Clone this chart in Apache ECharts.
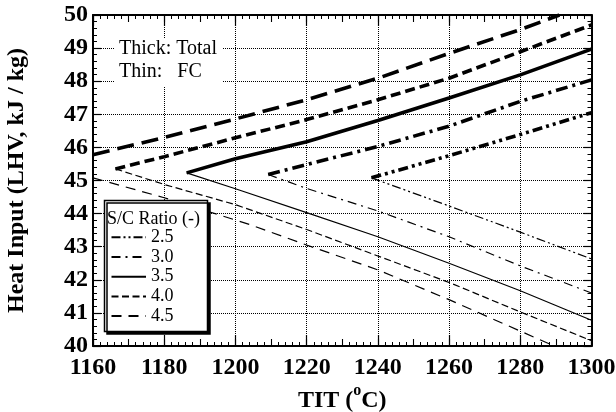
<!DOCTYPE html>
<html>
<head>
<meta charset="utf-8">
<script src="https://cdn.jsdelivr.net/npm/echarts@6/dist/echarts.min.js"></script>
<style>
  html, body { margin: 0; padding: 0; background: #fff; }
  #chart { width: 616px; height: 412px; }
</style>
</head>
<body>
<div id="chart"></div>
<script>
// Axis ranges
const titMin = 1160, titMax = 1300, titStep = 20;
const heatMin = 40, heatMax = 50, heatStep = 1;

// S/C ratio labels
const ratios = ['2.5', '3.0', '3.5', '4.0', '4.5'];

// S/C = 2.5
const titTotal25 = [1238.2, 1260, 1280, 1300];
const heatTotal25 = [45.08, 45.75, 46.39, 47.05];
const titFC25 = [1238.2, 1260, 1280, 1300];
const heatFC25 = [45.08, 44.23, 43.44, 42.63];

// S/C = 3.0
const titTotal30 = [1209.2, 1220, 1240, 1260, 1280, 1300];
const heatTotal30 = [45.18, 45.48, 46.03, 46.64, 47.39, 48.04];
const titFC30 = [1209.2, 1220, 1240, 1260, 1280, 1300];
const heatFC30 = [45.18, 44.76, 44.08, 43.30, 42.42, 41.60];

// S/C = 3.5
const titTotal35 = [1186.3, 1200, 1220, 1240, 1260, 1280, 1300];
const heatTotal35 = [45.23, 45.66, 46.17, 46.81, 47.49, 48.19, 48.97];
const titFC35 = [1186.3, 1200, 1220, 1240, 1260, 1280, 1300];
const heatFC35 = [45.23, 44.75, 44.03, 43.30, 42.50, 41.67, 40.78];

// S/C = 4.0
const titTotal40 = [1166.3, 1180, 1200, 1220, 1240, 1260, 1280, 1300];
const heatTotal40 = [45.35, 45.72, 46.29, 46.84, 47.44, 48.09, 48.89, 49.70];
const titFC40 = [1166.3, 1180, 1200, 1220, 1240, 1260, 1280, 1300];
const heatFC40 = [45.35, 44.88, 44.27, 43.52, 42.72, 41.92, 41.03, 40.16];

// S/C = 4.5
const titTotal45 = [1160, 1180, 1200, 1220, 1240, 1260, 1280, 1291];
const heatTotal45 = [45.78, 46.30, 46.86, 47.44, 48.09, 48.84, 49.56, 50.0];
const titFC45 = [1160, 1180, 1204, 1220, 1240, 1260, 1280, 1289.5];
const heatFC45 = [45.08, 44.48, 43.67, 43.05, 42.30, 41.40, 40.45, 40.0];

const zip = (xs, ys) => xs.map((x, i) => [x, ys[i]]);

const FONT = 'Liberation Serif';

// dash patterns per ratio: [thick, thin]
const dashes = {
  '2.5': [[10, 4, 3, 4, 3, 4], [9, 3, 2, 3, 2, 3]],
  '3.0': [[12, 5, 3, 5], [9, 5, 2, 5]],
  '3.5': ['solid', 'solid'],
  '4.0': [[10, 5], [7, 3.5]],
  '4.5': [[17, 8], [10, 7]]
};

const curves = [
  ['2.5', titTotal25, heatTotal25, titFC25, heatFC25],
  ['3.0', titTotal30, heatTotal30, titFC30, heatFC30],
  ['3.5', titTotal35, heatTotal35, titFC35, heatFC35],
  ['4.0', titTotal40, heatTotal40, titFC40, heatFC40],
  ['4.5', titTotal45, heatTotal45, titFC45, heatFC45]
];

const series = [];
curves.forEach(([r, tx, ty, fx, fy]) => {
  // thin: fuel cell branch (shown in legend)
  series.push({
    name: r, type: 'line', xAxisIndex: 0, yAxisIndex: 0,
    data: zip(fx, fy), symbol: 'none', smooth: false, animation: false,
    itemStyle: { color: '#000' },
    lineStyle: { color: '#000', width: 1.2, type: dashes[r][1] }
  });
  // thick: total branch
  series.push({
    name: 'Total ' + r, type: 'line', xAxisIndex: 0, yAxisIndex: 0,
    data: zip(tx, ty), symbol: 'none', smooth: false, animation: false,
    itemStyle: { color: '#000' },
    lineStyle: { color: '#000', width: 3.6, type: dashes[r][0] }
  });
});

const axisLineStyle = { show: true, lineStyle: { color: '#000', width: 2 } };
const plainNumber = v => String(v);

function xAx(pos, main) {
  return {
    type: 'value', min: titMin, max: titMax, interval: titStep, position: pos, offset: 0,
    axisLine: axisLineStyle,
    axisTick: { show: true, inside: true, length: 11, lineStyle: { color: '#000', width: 1.2 } },
    minorTick: { show: true, splitNumber: 10, length: 4, lineStyle: { color: '#000', width: 1 } },
    axisLabel: main ? { show: true, margin: 10, formatter: plainNumber, color: '#000', fontFamily: FONT, fontWeight: 'bold', fontSize: 24 } : { show: false },
    splitLine: main ? { show: true, lineStyle: { color: '#000', width: 1, type: [1, 1] } } : { show: false },
    name: main ? 'TIT ({sup|o}C)' : '',
    nameLocation: 'middle', nameGap: 37, nameMoveOverlap: false,
    nameTextStyle: {
      color: '#000', fontFamily: FONT, fontWeight: 'bold', fontSize: 24,
      rich: { sup: { fontFamily: FONT, fontWeight: 'bold', fontSize: 16, color: '#000', verticalAlign: 'top', padding: [0, 0, 20, 0] } }
    }
  };
}
function xMid(pos) {
  return {
    type: 'value', min: titMin, max: titMax, interval: 10, position: pos, offset: 0,
    axisLine: { show: false },
    axisTick: { show: true, inside: true, length: 7, lineStyle: { color: '#000', width: 1.1 } },
    axisLabel: { show: false }, splitLine: { show: false }
  };
}
function yAx(pos, main) {
  return {
    type: 'value', min: heatMin, max: heatMax, interval: heatStep, position: pos, offset: 0,
    axisLine: axisLineStyle,
    axisTick: { show: true, inside: true, length: 8, lineStyle: { color: '#000', width: 1.2 } },
    minorTick: { show: true, splitNumber: 5, length: 4, lineStyle: { color: '#000', width: 1 } },
    axisLabel: main ? { show: true, margin: 5, formatter: plainNumber, color: '#000', fontFamily: FONT, fontWeight: 'bold', fontSize: 24 } : { show: false },
    splitLine: main ? { show: true, lineStyle: { color: '#000', width: 1, type: [1, 1] } } : { show: false },
    name: main ? 'Heat Input (LHV, kJ / kg)' : '',
    nameLocation: 'middle', nameGap: 64, nameMoveOverlap: false,
    nameTextStyle: { color: '#000', fontFamily: FONT, fontWeight: 'bold', fontSize: 24 }
  };
}

const chart = echarts.init(document.getElementById('chart'), null, { renderer: 'canvas' });
chart.setOption({
  backgroundColor: '#fff',
  animation: false,
  grid: { left: 93, right: 24.5, top: 15, bottom: 66, containLabel: false, outerBoundsMode: 'none' },
  xAxis: [xAx('bottom', true), xAx('top', false), xMid('bottom'), xMid('top')],
  yAxis: [yAx('left', true), yAx('right', false)],
  legend: {
    data: ratios, orient: 'vertical', left: 110.5, top: 228.3, padding: 0,
    itemWidth: 34.5, itemHeight: 18, itemGap: 1.7, z: 10,
    itemStyle: { opacity: 0 },
    textStyle: { color: '#000', fontFamily: FONT, fontSize: 18 },
    selectedMode: false
  },
  graphic: [
    { type: 'rect', z: 8, shape: { x: 104.5, y: 200.5, width: 103, height: 131 },
      style: { fill: '#fff', stroke: '#000', lineWidth: 1.5, shadowColor: '#000', shadowOffsetX: 2.5, shadowOffsetY: 2.5, shadowBlur: 0 } },
    { type: 'text', z: 11, style: { x: 107, y: 219.5, text: 'S/C Ratio (-)', font: '18px "Liberation Serif"', fill: '#000', textVerticalAlign: 'middle' } },
    { type: 'rect', z: 8, shape: { x: 115, y: 39, width: 108, height: 47 }, style: { fill: '#fff' } },
    { type: 'text', z: 11, style: { x: 119, y: 49, text: 'Thick: Total', font: '20px "Liberation Serif"', fill: '#000', textVerticalAlign: 'middle' } },
    { type: 'text', z: 11, style: { x: 119, y: 72, text: 'Thin:   FC', font: '20px "Liberation Serif"', fill: '#000', textVerticalAlign: 'middle' } }
  ],
  series: series
});
</script>
</body>
</html>
